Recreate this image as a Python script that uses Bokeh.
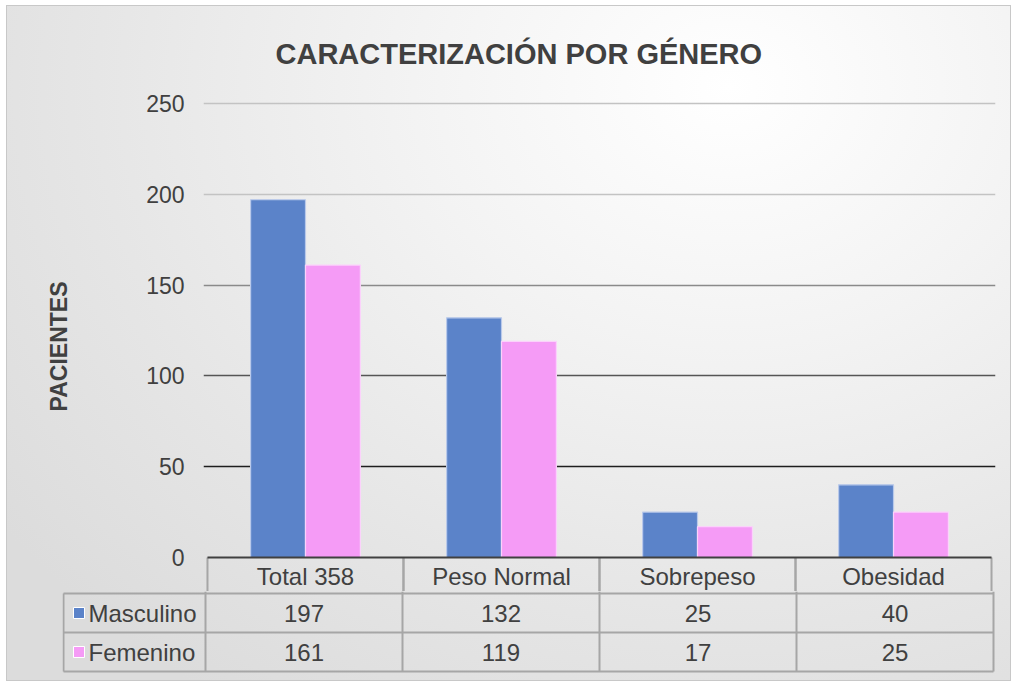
from bokeh.plotting import figure
from bokeh.models import Range1d, FixedTicker, Grid, ColumnDataSource, FactorRange
from bokeh.layouts import column
from bokeh.transform import dodge
from bokeh.core.properties import value
from bokeh.embed import file_html
from bokeh.resources import INLINE

# ---------------- data ----------------
categories = ["Total 358", "Peso Normal", "Sobrepeso", "Obesidad"]
masculino = [197, 132, 25, 40]
femenino = [161, 119, 17, 25]
series_names = ["Masculino", "Femenino"]
y_ticks = [0, 50, 100, 150, 200, 250]
title_text = "CARACTERIZACIÓN POR GÉNERO"
y_label = "PACIENTES"

# ---------------- style / layout ----------------
FONT = "Liberation Sans"
TXT = "#404040"
BLUE = "#5B83C9"
PINK = "#F59BF6"
TABLE_LINE = "#a6a6a6"
OX, OY = 7, 6                      # page offset of the chart box
W = 1010 - OX
col_px = 197.0
SPLIT = 591                        # page y where the bar figure ends and the table rows start

# ---- figure A (title + bars + header row of the table) ----
HA = SPLIT - OY
A_TOP, A_LEFT, A_RIGHT = 101 - OY, 203 - OX, 1010 - 995
zero_c, top_c = 557 - OY, 103 - OY      # canvas y of value 0 and value 250
ppu = (zero_c - top_c) / 250.0
yA0 = -(HA - zero_c) / ppu
yA1 = 250 + (top_c - A_TOP) / ppu
header_y = -(576 - 557) / ppu

pA = figure(width=W, height=HA,
            x_range=FactorRange(*categories, range_padding=4 / col_px,
                                range_padding_units="absolute"),
            y_range=Range1d(yA0, yA1), output_backend="svg", toolbar_location=None,
            x_axis_location=None, min_border_left=A_LEFT, min_border_right=A_RIGHT,
            min_border_top=A_TOP, min_border_bottom=0,
            background_fill_color=None, border_fill_color=None, outline_line_color=None)
pA.frame_align = False
pA.xgrid.visible = False
pA.ygrid.visible = False

grid_specs = [([200, 250], "#c3c3c3"), ([150], "#8a8a8a"), ([100], "#555555"), ([50], "#1e1e1e")]
for ticks, col in grid_specs:
    pA.add_layout(Grid(dimension=1, ticker=FixedTicker(ticks=ticks),
                       grid_line_color=col, grid_line_width=1.5))

src = ColumnDataSource(dict(cat=categories, m=masculino, f=femenino,
                            zero=[0] * len(categories), low=[yA0] * len(categories)))
pA.vbar(x=dodge("cat", -0.14, range=pA.x_range), top="m", width=0.28, source=src,
        fill_color=BLUE, line_color="#b9c9ea", line_width=1.2)
pA.vbar(x=dodge("cat", 0.14, range=pA.x_range), top="f", width=0.28, source=src,
        fill_color=PINK, line_color="#fbd2fb", line_width=1.2)

# header row of the data table (category names) with its cell borders
for off in (-0.5, 0.5):
    pA.segment(x0=dodge("cat", off, range=pA.x_range), y0="zero",
               x1=dodge("cat", off, range=pA.x_range), y1="low", source=src,
               line_color=TABLE_LINE, line_width=2)
base = ColumnDataSource(dict(a=[categories[0]], b=[categories[-1]], y=[0]))
pA.segment(x0=dodge("a", -0.5, range=pA.x_range), y0="y",
           x1=dodge("b", 0.5, range=pA.x_range), y1="y", source=base,
           line_color="#404040", line_width=2)
pA.text(x="cat", y=header_y, text="cat", source=src, text_font=value(FONT),
        text_font_size="24px", text_color=TXT, text_align="center", text_baseline="middle")

ax = pA.yaxis[0]
ax.ticker = FixedTicker(ticks=y_ticks)
ax.bounds = (y_ticks[0], y_ticks[-1])
ax.axis_line_color = None
ax.major_tick_line_color = None
ax.minor_tick_line_color = None
ax.major_tick_out = 0
ax.major_tick_in = 0
ax.major_label_standoff = 19
ax.major_label_text_font = FONT
ax.major_label_text_font_size = "23px"
ax.major_label_text_color = TXT
ax.axis_label = y_label
ax.axis_label_text_font = FONT
ax.axis_label_text_font_size = "23px"
ax.axis_label_text_font_style = "bold"
ax.axis_label_text_color = TXT
ax.axis_label_standoff = 71

pA.title.text = title_text
pA.title.text_font = FONT
pA.title.text_font_size = "29px"
pA.title.text_font_style = "bold"
pA.title.text_color = TXT
pA.title.align = "left"
pA.title.vertical_align = "top"
pA.title.offset = 72
pA.title.standoff = 60

# ---- figure B (data table rows) ----
HB = 680 - SPLIT
B_LEFT, B_RIGHT = 62 - OX, 1010 - 995
xB0 = (62 - 205) / col_px
xB1 = (995 - 205) / col_px
row_px = 39.0
B_FRAME_H = 673 - SPLIT
yB1 = 2 + (593 - SPLIT) / row_px
yB0 = yB1 - B_FRAME_H / row_px
x_leg = (63 - 205) / col_px
x_sq = (78.5 - 205) / col_px
x_txt = (88 - 205) / col_px

pB = figure(width=W, height=HB, x_range=Range1d(xB0, xB1), y_range=Range1d(yB0, yB1),
            output_backend="svg", toolbar_location=None, x_axis_location=None,
            y_axis_location=None, min_border_left=B_LEFT, min_border_right=B_RIGHT,
            min_border_top=0, min_border_bottom=HB - B_FRAME_H,
            background_fill_color=None, border_fill_color=None, outline_line_color=None)
pB.frame_align = False
pB.grid.visible = False

n = len(categories)
vx = list(range(n + 1)) + [x_leg]
vy0 = [0] * (n + 1) + [0]
vy1 = [yB1] * (n + 1) + [2]
pB.segment(x0=vx, y0=vy0, x1=vx, y1=vy1, line_color=TABLE_LINE, line_width=2)
pB.segment(x0=[x_leg] * 3, y0=[0, 1, 2], x1=[n] * 3, y1=[0, 1, 2],
           line_color=TABLE_LINE, line_width=2)

centers = [i + 0.5 for i in range(n)]
pB.text(x=centers, y=[1.5] * n, text=[str(v) for v in masculino], text_font=value(FONT),
        text_font_size="24px", text_color=TXT, text_align="center", text_baseline="middle")
pB.text(x=centers, y=[0.5] * n, text=[str(v) for v in femenino], text_font=value(FONT),
        text_font_size="24px", text_color=TXT, text_align="center", text_baseline="middle")
pB.scatter(x=[x_sq, x_sq], y=[1.5, 0.5], marker="square", size=11,
           fill_color=[BLUE, PINK], line_color="white", line_width=1)
pB.text(x=[x_txt, x_txt], y=[1.5, 0.5], text=series_names, text_font=value(FONT),
        text_font_size="24px", text_color=TXT, text_align="left", text_baseline="middle")

layout = column(pA, pB, spacing=0, styles={
    "margin-left": f"{OX}px", "margin-top": f"{OY}px",
    "background": "radial-gradient(ellipse 90% 110% at 72% 12%, #ffffff 0%, #f3f3f3 35%, #e6e6e6 70%, #dcdcdc 100%)",
    "outline": "1px solid #c8c8c8",
})

open("out.html", "w").write(file_html(layout, INLINE))
